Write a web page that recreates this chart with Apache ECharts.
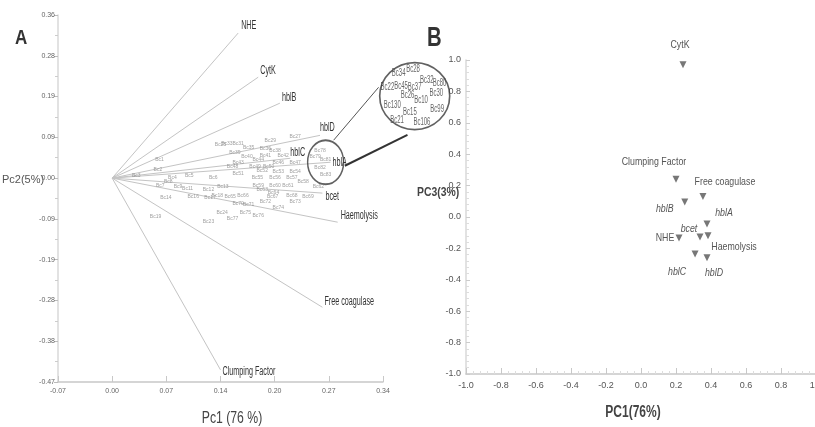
<!DOCTYPE html>
<html>
<head>
<meta charset="utf-8">
<script src="https://cdn.jsdelivr.net/npm/echarts@6/dist/echarts.min.js"></script>
<style>
html, body { margin: 0; padding: 0; background: #fff; }
#chart { width: 815px; height: 427px; }
</style>
</head>
<body>
<div id="chart"></div>
<script>
// ---- panel A: loading vectors (PC1, PC2) ----
var loadNames = ['NHE', 'CytK', 'hblB', 'hblD', 'hblC', 'hblA', 'bcet', 'Haemolysis', 'Free coagulase', 'Clumping Factor'];
var loadPc1 = [0.157, 0.182, 0.209, 0.259, 0.222, 0.272, 0.262, 0.281, 0.262, 0.135];
var loadPc2 = [0.329, 0.229, 0.170, 0.097, 0.045, 0.036, -0.034, -0.100, -0.293, -0.435];

// isolate scores (labels too small to read in the source)
var isoPc1 = [0.059, 0.057, 0.030, 0.075, 0.096, 0.126, 0.060, 0.070, 0.082, 0.094, 0.120, 0.138, 0.067, 0.101, 0.122, 0.131, 0.054, 0.120, 0.137, 0.135,
  0.228, 0.197, 0.157, 0.143, 0.170, 0.191, 0.203, 0.153, 0.168, 0.191, 0.213, 0.157, 0.182, 0.207, 0.228, 0.150, 0.178, 0.195, 0.157, 0.187,
  0.207, 0.228, 0.181, 0.203, 0.224, 0.238, 0.182, 0.203, 0.219, 0.257, 0.187, 0.201, 0.147, 0.163, 0.200, 0.224, 0.244, 0.157, 0.170, 0.191,
  0.228, 0.207, 0.166, 0.182, 0.150, 0.259, 0.253, 0.266, 0.259, 0.266];
var isoPc2 = [0.041, 0.020, 0.005, 0.002, 0.005, 0.000, -0.018, -0.009, -0.020, -0.023, -0.027, -0.020, -0.045, -0.041, -0.045, -0.039, -0.088, -0.098, -0.079, 0.075,
  0.093, 0.086, 0.079, 0.079, 0.070, 0.068, 0.063, 0.057, 0.048, 0.052, 0.052, 0.036, 0.041, 0.036, 0.036, 0.025, 0.025, 0.025, 0.011, 0.018,
  0.014, 0.014, 0.000, 0.002, 0.000, -0.009, -0.016, -0.016, -0.016, -0.020, -0.027, -0.032, -0.043, -0.039, -0.043, -0.039, -0.043, -0.057, -0.061, -0.054,
  -0.054, -0.068, -0.079, -0.084, -0.091, 0.063, 0.048, 0.041, 0.023, 0.007];
var isoNames = ['Bc1', 'Bc2', 'Bc3', 'Bc4', 'Bc5', 'Bc6', 'Bc7', 'Bc8', 'Bc9', 'Bc11', 'Bc12', 'Bc13', 'Bc14', 'Bc16', 'Bc17', 'Bc18', 'Bc19', 'Bc23', 'Bc24', 'Bc25',
  'Bc27', 'Bc29', 'Bc31', 'Bc33', 'Bc35', 'Bc36', 'Bc38', 'Bc39', 'Bc40', 'Bc41', 'Bc42', 'Bc43', 'Bc44', 'Bc46', 'Bc47', 'Bc48', 'Bc49', 'Bc50', 'Bc51', 'Bc52',
  'Bc53', 'Bc54', 'Bc55', 'Bc56', 'Bc57', 'Bc58', 'Bc59', 'Bc60', 'Bc61', 'Bc62', 'Bc63', 'Bc64', 'Bc65', 'Bc66', 'Bc67', 'Bc68', 'Bc69', 'Bc70', 'Bc71', 'Bc72',
  'Bc73', 'Bc74', 'Bc75', 'Bc76', 'Bc77', 'Bc78', 'Bc79', 'Bc81', 'Bc82', 'Bc83'];

// magnified cluster
var zoomNames = ['Bc34', 'Bc28', 'Bc32', 'Bc80', 'Bc22', 'Bc45', 'Bc37', 'Bc30', 'Bc26', 'Bc10', 'Bc130', 'Bc99', 'Bc15', 'Bc21', 'Bc106'];
var zoomPc1 = [0.357, 0.375, 0.392, 0.408, 0.343, 0.360, 0.377, 0.404, 0.368, 0.385, 0.349, 0.405, 0.371, 0.355, 0.386];
var zoomPc2 = [0.238, 0.247, 0.222, 0.215, 0.206, 0.208, 0.206, 0.193, 0.188, 0.177, 0.166, 0.156, 0.150, 0.132, 0.127];

// tick labels, panel A
var xTicksA = ['-0.07', '0.00', '0.07', '0.14', '0.20', '0.27', '0.34'];
var yTicksA = ['-0.47', '-0.38', '-0.28', '-0.19', '-0.09', '0.00', '0.09', '0.19', '0.28', '0.36'];

// ---- panel B: PC1 vs PC3 ----
var bNames = ['CytK', 'Clumping Factor', 'Free coagulase', 'hblB', 'hblA', 'bcet', 'Haemolysis', 'NHE', 'hblC', 'hblD'];
var bPc1 = [0.24, 0.20, 0.354, 0.25, 0.377, 0.337, 0.383, 0.217, 0.309, 0.377];
var bPc3 = [0.97, 0.24, 0.13, 0.096, -0.045, -0.127, -0.12, -0.134, -0.236, -0.26];

var cond = "Arial, 'Liberation Sans', sans-serif";

// label placement (pixel offsets from the point)
var loadLabelOffsets = [[3, -7], [2, -6], [2, -5], [0, -8], [0, -6], [2, 0], [3, 4], [3, -7], [2, -6], [2, 2]];
var bLabelOffsets = [[-3, -20], [-22, -17], [22, -15], [-20, 7], [17, -11], [-11, -8], [26, 11], [-14, 0], [-18, 18], [7, 15]];

var chart = echarts.init(document.getElementById('chart'));

var ix = 0.0675, iy = 0.0925;

var option = {
  animation: false,
  backgroundColor: '#fff',
  grid: [
    { left: 58, top: 15, width: 325, height: 367, outerBoundsMode: 'none' },
    { left: 466, top: 60, width: 350, height: 314, outerBoundsMode: 'none' }
  ],
  xAxis: [{
    gridIndex: 0, type: 'value', min: -ix, max: 5 * ix, interval: ix,
    axisLine: { onZero: false, lineStyle: { color: '#c8c8c8', width: 1.5 } },
    axisTick: { inside: true, length: 6, lineStyle: { color: '#c8c8c8' } },
    splitLine: { show: false },
    axisLabel: {
      fontFamily: cond, fontSize: 7, color: '#666', margin: 6,
      formatter: function (v) { return xTicksA[Math.round((v + ix) / ix)]; }
    }
  }, {
    gridIndex: 1, type: 'value', min: -1, max: 1, interval: 0.2,
    axisLine: { onZero: false, lineStyle: { color: '#c8c8c8', width: 1.5 } },
    axisTick: { inside: true, length: 6, lineStyle: { color: '#c8c8c8' } },
    minorTick: { show: true, splitNumber: 5, length: 3, lineStyle: { color: '#ddd' } },
    splitLine: { show: false },
    axisLabel: {
      fontFamily: cond, fontSize: 9, color: '#555', margin: 7,
      formatter: function (v) { return v.toFixed(1); }
    }
  }],
  yAxis: [{
    gridIndex: 0, type: 'value', min: -5 * iy, max: 4 * iy, interval: iy,
    axisLine: { onZero: false, lineStyle: { color: '#d8d8d8', width: 1.5 } },
    axisTick: { length: 4, lineStyle: { color: '#bbb' } },
    minorTick: { show: true, splitNumber: 2, length: 3, lineStyle: { color: '#ccc' } },
    splitLine: { show: false },
    axisLabel: {
      fontFamily: cond, fontSize: 7, color: '#666', margin: 3,
      formatter: function (v) { return yTicksA[Math.round((v + 5 * iy) / iy)]; }
    }
  }, {
    gridIndex: 1, type: 'value', min: -1, max: 1, interval: 0.2,
    axisLine: { onZero: false, lineStyle: { color: '#d8d8d8', width: 1.5 } },
    axisTick: { inside: true, length: 4, lineStyle: { color: '#ccc' } },
    minorTick: { show: true, splitNumber: 5, length: 3, lineStyle: { color: '#ddd' } },
    splitLine: { show: false },
    axisLabel: {
      fontFamily: cond, fontSize: 9, color: '#555', margin: 5,
      formatter: function (v) { return v.toFixed(1); }
    }
  }],
  series: [
    {
      // loading vectors
      type: 'lines', coordinateSystem: 'cartesian2d', xAxisIndex: 0, yAxisIndex: 0,
      silent: true,
      lineStyle: { color: '#c4c4c4', width: 1, opacity: 1 },
      data: loadNames.map(function (n, i) {
        return { coords: [[0, 0], [loadPc1[i], loadPc2[i]]] };
      })
    },
    {
      // isolate labels
      type: 'scatter', xAxisIndex: 0, yAxisIndex: 0, silent: true,
      symbolSize: 1, itemStyle: { color: 'rgba(0,0,0,0)' },
      label: { show: true, position: 'inside', formatter: '{b}', fontFamily: cond, fontSize: 5, color: '#888' },
      data: isoNames.map(function (n, i) { return { name: n, value: [isoPc1[i], isoPc2[i]] }; })
    },
    {
      // magnifier circles
      type: 'scatter', xAxisIndex: 0, yAxisIndex: 0, silent: true, clip: false,
      symbol: 'circle',
      itemStyle: { color: 'rgba(0,0,0,0)', borderColor: '#3a3a3a', borderWidth: 1.6 },
      data: [
        { value: [0.266, 0.036], symbolSize: [36, 44] },
        { value: [0.377, 0.186], symbolSize: [70, 67] }
      ]
    },
    {
      type: 'lines', coordinateSystem: 'cartesian2d', xAxisIndex: 0, yAxisIndex: 0, silent: true, clip: false,
      data: [
        { coords: [[0.276, 0.086], [0.332, 0.206]], lineStyle: { color: '#555', width: 1, opacity: 1 } },
        { coords: [[0.290, 0.028], [0.368, 0.098]], lineStyle: { color: '#333', width: 2, opacity: 1 } }
      ]
    },
    {
      // panel B markers
      type: 'scatter', xAxisIndex: 1, yAxisIndex: 1, silent: true,
      symbol: 'triangle', symbolRotate: 180, symbolSize: 7,
      itemStyle: { color: '#555' },
      data: bNames.map(function (n, i) { return { name: n, value: [bPc1[i], bPc3[i]] }; })
    }
  ]
};

chart.setOption(option);

// narrow text labels placed from data coordinates
var g = [
  { type: 'text', x: 15, y: 28, scaleX: 0.85, style: { text: 'A', font: 'bold 20px Arial, sans-serif', fill: '#333' } },
  { type: 'text', x: 427, y: 25, scaleX: 0.75, style: { text: 'B', font: 'bold 27px Arial, sans-serif', fill: '#333' } },
  { type: 'text', x: 2, y: 174, style: { text: 'Pc2(5%)', font: '11px ' + cond, fill: '#555' } },
  { type: 'text', x: 232, y: 418, scaleX: 0.72, style: { text: 'Pc1 (76 %)', font: '17px ' + cond, fill: '#444', align: 'center', verticalAlign: 'middle' } },
  { type: 'text', x: 417, y: 192, scaleX: 0.8, style: { text: 'PC3(3%)', font: 'bold 13px ' + cond, fill: '#444', verticalAlign: 'middle' } },
  { type: 'text', x: 633, y: 413, scaleX: 0.75, style: { text: 'PC1(76%)', font: 'bold 16px ' + cond, fill: '#444', align: 'center', verticalAlign: 'middle' } }
];
loadNames.forEach(function (n, i) {
  var p = chart.convertToPixel({ xAxisIndex: 0, yAxisIndex: 0 }, [loadPc1[i], loadPc2[i]]);
  g.push({ type: 'text', x: p[0] + loadLabelOffsets[i][0], y: p[1] + loadLabelOffsets[i][1], scaleX: 0.6,
    style: { text: n, font: '12px ' + cond, fill: '#333', verticalAlign: 'middle' } });
});
zoomNames.forEach(function (n, i) {
  var p = chart.convertToPixel({ xAxisIndex: 0, yAxisIndex: 0 }, [zoomPc1[i], zoomPc2[i]]);
  g.push({ type: 'text', x: p[0], y: p[1], scaleX: 0.6,
    style: { text: n, font: '10px ' + cond, fill: '#666', align: 'center', verticalAlign: 'middle' } });
});
bNames.forEach(function (n, i) {
  var p = chart.convertToPixel({ xAxisIndex: 1, yAxisIndex: 1 }, [bPc1[i], bPc3[i]]);
  var italic = /^hbl|^bcet/.test(n);
  g.push({ type: 'text', x: p[0] + bLabelOffsets[i][0], y: p[1] + bLabelOffsets[i][1], scaleX: 0.8,
    style: { text: n, font: (italic ? 'italic ' : '') + '11px ' + cond, fill: '#555', align: 'center', verticalAlign: 'middle' } });
});
chart.setOption({ graphic: g });
</script>
</body>
</html>
